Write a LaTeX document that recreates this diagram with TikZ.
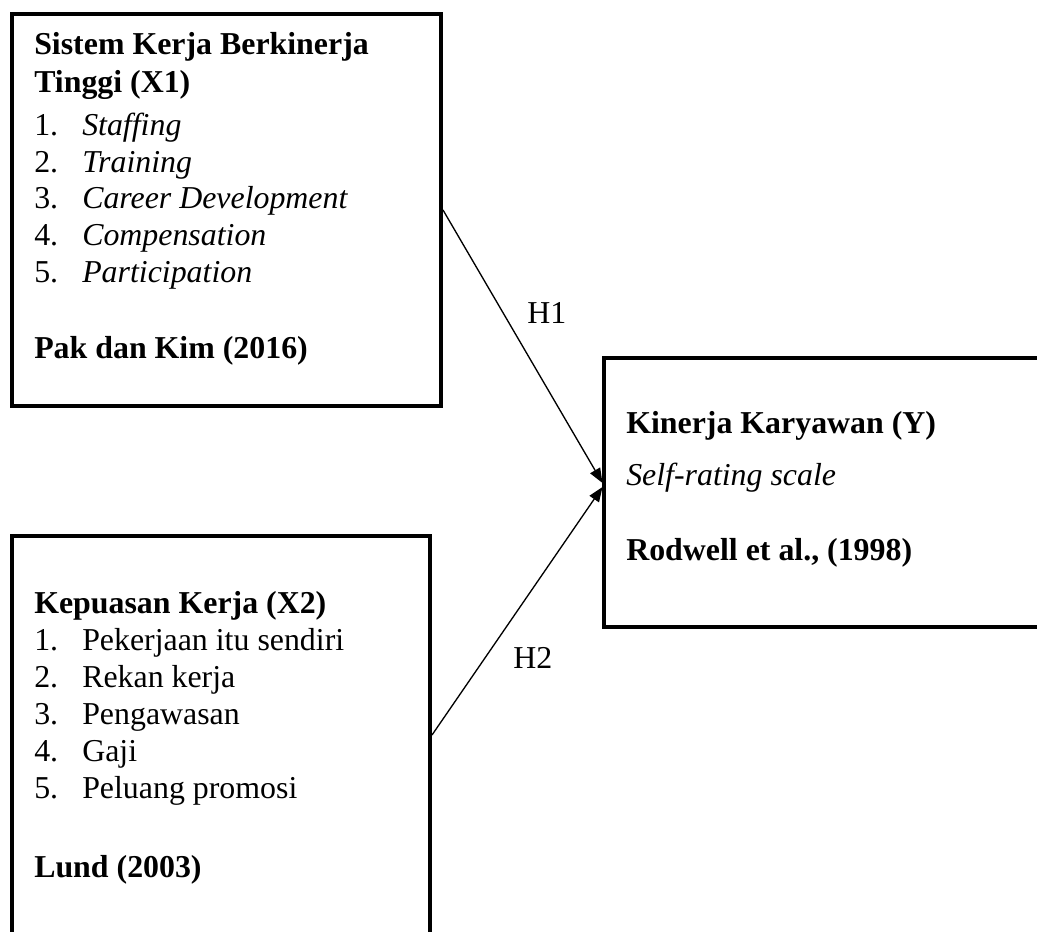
\documentclass[tikz,border=0pt]{standalone}
\usepackage{fontspec}
\setmainfont{Liberation Serif}
\usetikzlibrary{arrows.meta}
\begin{document}
\begin{tikzpicture}[x=0.75pt,y=-0.75pt,
  box/.style={draw=black,line width=3pt,rectangle,inner sep=0pt},
  txt/.style={anchor=base west,inner sep=0pt,font=\fontsize{23.9}{28}\selectfont},
  num/.style={anchor=base west,inner sep=0pt,font=\fontsize{23.9}{28}\selectfont},
  hlabel/.style={anchor=base west,inner sep=0pt,font=\fontsize{23.9}{28}\selectfont},
  conn/.style={line width=1pt,-{Triangle[length=11pt,width=8.5pt]}}]
\useasboundingbox (0,0) rectangle (1037,931);
\begin{scope}
\clip (0,0) rectangle (1037,931);
% boxes
\node[box,minimum width=429*0.75pt,minimum height=392*0.75pt] (b1) at (226.5,210) {};
\node[box,minimum width=418*0.75pt,minimum height=398*0.75pt] (b2) at (221,735) {};
\node[box,minimum width=460*0.75pt,minimum height=269*0.75pt] (b3) at (834,492.5) {};
\end{scope}
% box 1 text
\node[txt] (t1a) at (34,55) {\bfseries Sistem Kerja Berkinerja};
\node[txt] (t1b) at (34,93) {\bfseries Tinggi (X1)};
\node[num] (n11) at (34,135) {1.};
\node[txt] (i11) at (82,135) {\itshape Staffing};
\node[num] (n12) at (34,172) {2.};
\node[txt] (i12) at (82,172) {\itshape Training};
\node[num] (n13) at (34,208) {3.};
\node[txt] (i13) at (82,208) {\itshape Career Development};
\node[num] (n14) at (34,245) {4.};
\node[txt] (i14) at (82,245) {\itshape Compensation};
\node[num] (n15) at (34,282) {5.};
\node[txt] (i15) at (82,282) {\itshape Participation};
\node[txt] (r1) at (34,358) {\bfseries Pak dan Kim (2016)};
% box 2 text
\node[txt] (t2) at (34,613) {\bfseries Kepuasan Kerja (X2)};
\node[num] (n21) at (34,650) {1.};
\node[txt] (i21) at (82,650) {Pekerjaan itu sendiri};
\node[num] (n22) at (34,687) {2.};
\node[txt] (i22) at (82,687) {Rekan kerja};
\node[num] (n23) at (34,724) {3.};
\node[txt] (i23) at (82,724) {Pengawasan};
\node[num] (n24) at (34,761) {4.};
\node[txt] (i24) at (82,761) {Gaji};
\node[num] (n25) at (34,798) {5.};
\node[txt] (i25) at (82,798) {Peluang promosi};
\node[txt] (r2) at (34,877) {\bfseries Lund (2003)};
% box 3 text
\node[txt] (t3) at (626,433) {\bfseries Kinerja Karyawan (Y)};
\node[txt] (s3) at (626,485) {\itshape Self-rating scale};
\node[txt] (r3) at (626,560) {\bfseries Rodwell et al., (1998)};
% connectors
\coordinate (e1) at (602.5,483);
\coordinate (e2) at (602.5,487);
\draw[conn] (b1.east) -- (e1);
\draw[conn] (b2.east) -- (e2);
\node[hlabel] (h1) at (527,323) {H1};
\node[hlabel] (h2) at (513,668) {H2};
\end{tikzpicture}
\end{document}
